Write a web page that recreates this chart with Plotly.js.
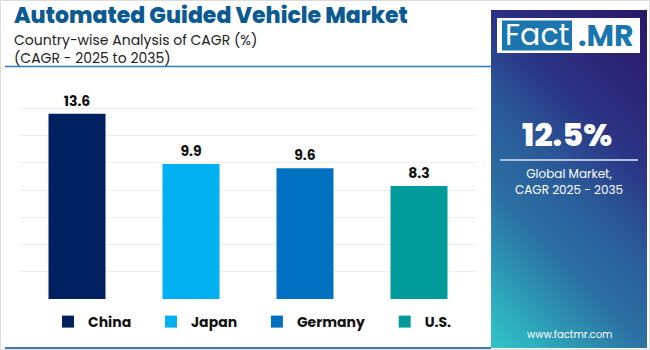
<!DOCTYPE html>
<html>
<head>
<meta charset="utf-8">
<script src="https://cdn.plot.ly/plotly-3.0.1.min.js"></script>
<style>html,body{margin:0;padding:0;background:#fff;}#chart{width:650px;height:350px;}</style>
</head>
<body>
<div id="chart"></div>
<script>
// ---- data ----
const countries = ["China", "Japan", "Germany", "U.S."];
const cagr = [13.6, 9.9, 9.6, 8.3];
const barColors = ["#002060", "#00B0F0", "#0070C0", "#009B9A"];
const chartTitle = "Automated Guided Vehicle Market";
const subtitle1 = "Country-wise Analysis of CAGR (%)";
const subtitle2 = "(CAGR - 2025 to 2035)";
const globalValue = "12.5%";
const globalLabel = ["Global Market,", "CAGR 2025 - 2035"];
const website = "www.factmr.com";

// ---- layout helpers (pixel -> paper) ----
const W = 650, H = 350;
const M = {l: 20, r: 174, t: 81, b: 51};
const PW = W - M.l - M.r, PH = H - M.t - M.b;
const px = x => (x - M.l) / PW;
const py = y => (H - M.b - y) / PH;

const FONT = "Poppins, Inter, 'Open Sans', sans-serif";
const PAD = "\u00a0\u00a0\u00a0\u00a0\u00a0"; // legend spacing after each label

const traces = countries.map((c, i) => ({
  type: "bar",
  name: c + PAD,
  x: [c],
  y: [cagr[i]],
  width: 0.5,
  marker: {color: barColors[i]},
  text: [cagr[i].toFixed(1)],
  textposition: "outside",
  textfont: {family: FONT, size: 14, color: "#111", weight: 700},
  cliponaxis: false,
  hoverinfo: "skip"
}));

const gradSvg = '<svg xmlns="http://www.w3.org/2000/svg" width="156" height="338" viewBox="0 0 156 338" preserveAspectRatio="none">' +
  '<defs><linearGradient id="g" gradientUnits="userSpaceOnUse" x1="156" y1="0" x2="-91" y2="247">' +
  '<stop offset="0" stop-color="#2a1766"/><stop offset="0.32" stop-color="#2b3284"/>' +
  '<stop offset="0.5" stop-color="#2a5a99"/><stop offset="0.68" stop-color="#2c70a2"/>' +
  '<stop offset="0.85" stop-color="#2d9fb8"/><stop offset="1" stop-color="#30c6c8"/>' +
  '</linearGradient></defs><rect width="156" height="338" fill="url(#g)"/></svg>';
const gradSrc = "data:image/svg+xml;charset=utf-8," + encodeURIComponent(gradSvg);

const annotations = [
  {text: chartTitle, x: px(12), y: py(15.5), xanchor: "left", yanchor: "middle",
   font: {family: FONT, size: 22, color: "#0B5A91", weight: 800}},
  {text: subtitle1 + "<br>" + subtitle2, x: px(12), y: py(48.5), xanchor: "left", yanchor: "middle", align: "left",
   font: {family: FONT, size: 14, color: "#222"}},
  {text: "Fact", x: px(537), y: py(35), xanchor: "center", yanchor: "middle",
   font: {family: FONT, size: 30, color: "#fff"}},
  {text: "<b>.MR</b>", x: px(606), y: py(35.5), xanchor: "center", yanchor: "middle",
   font: {family: FONT, size: 30, color: "#1B75AE"}},
  {text: globalValue, x: px(567), y: py(134), xanchor: "center", yanchor: "middle",
   font: {family: FONT, size: 32, color: "#fff", weight: 800}},
  {text: globalLabel.join("<br>"), x: px(569), y: py(181), xanchor: "center", yanchor: "middle",
   font: {family: FONT, size: 12, color: "#fff"}},
  {text: website, x: px(569), y: py(334), xanchor: "center", yanchor: "middle",
   font: {family: FONT, size: 10, color: "#fff"}}
].map(a => Object.assign({xref: "paper", yref: "paper", showarrow: false}, a));

const shapes = [
  {type: "rect", x0: px(0.5), x1: px(649.5), y0: py(0.5), y1: py(349.5), line: {color: "#dcdcdc", width: 1}},
  {type: "line", x0: px(5), x1: px(491), y0: py(66.5), y1: py(66.5), line: {color: "#2A7AB8", width: 1.5}},
  {type: "line", x0: px(5), x1: px(491), y0: py(348), y1: py(348), line: {color: "#3D7FB5", width: 2}},
  {type: "rect", x0: px(497), x1: px(640), y0: py(18), y1: py(53), fillcolor: "#fff", line: {width: 0}},
  {type: "rect", x0: px(502), x1: px(572), y0: py(20.5), y1: py(50.5), fillcolor: "#1B75AE", line: {width: 0}},
  {type: "line", x0: px(500), x1: px(638), y0: py(160), y1: py(160), line: {color: "#b4bedc", width: 2}}
].map(s => Object.assign({xref: "paper", yref: "paper", layer: "above"}, s));
shapes[0].layer = "below";

const layout = {
  width: W, height: H,
  margin: M,
  paper_bgcolor: "#fff",
  plot_bgcolor: "#fff",
  barmode: "overlay",
  showlegend: true,
  legend: {orientation: "h", x: px(48), xanchor: "left", y: py(322), yanchor: "middle",
           font: {family: FONT, size: 14, color: "#111", weight: 700}, itemclick: false, itemdoubleclick: false},
  xaxis: {type: "category", categoryarray: countries, range: [-0.5, 3.5], showticklabels: false,
          showgrid: false, zeroline: false, showline: false, ticks: ""},
  yaxis: {range: [0, 16], dtick: 2, showticklabels: false, showgrid: true, gridcolor: "#efefef",
          gridwidth: 1, zeroline: false, showline: false, ticks: ""},
  images: [{source: gradSrc, xref: "paper", yref: "paper", x: px(491), y: py(10), sizex: px(647) - px(491),
            sizey: py(10) - py(348), xanchor: "left", yanchor: "top", sizing: "stretch", layer: "below"}],
  annotations: annotations,
  shapes: shapes
};

Plotly.newPlot("chart", traces, layout, {staticPlot: true, displayModeBar: false});
</script>
</body>
</html>
